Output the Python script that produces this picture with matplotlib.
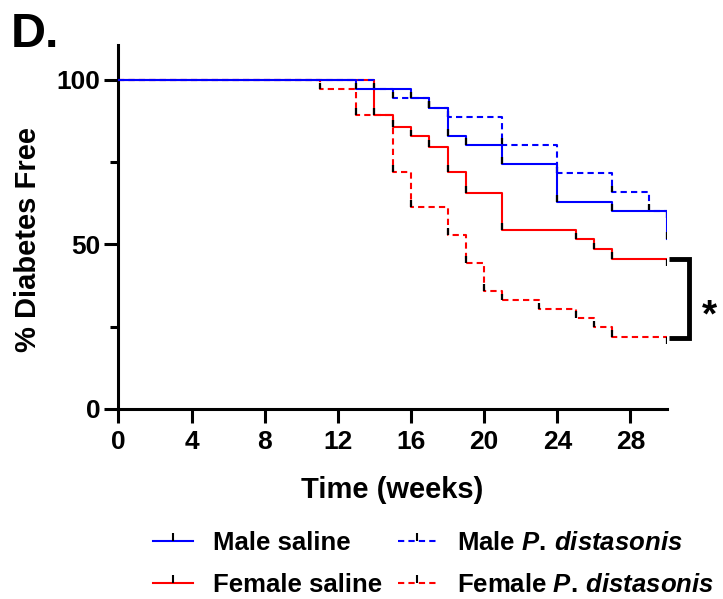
import matplotlib
matplotlib.use("Agg")
import matplotlib.pyplot as plt
from matplotlib.lines import Line2D
from matplotlib.ticker import FixedLocator

plt.rcParams['font.family'] = ['Liberation Sans', 'DejaVu Sans']
plt.rcParams['font.weight'] = 'bold'
plt.rcParams['mathtext.fontset'] = 'custom'
plt.rcParams['mathtext.it'] = 'Liberation Sans:italic:bold'
plt.rcParams['mathtext.rm'] = 'Liberation Sans:bold'
plt.rcParams['mathtext.bf'] = 'Liberation Sans:bold'

# ---- data (Kaplan-Meier steps: week of event, % diabetes free after event) ----
weeks_male_saline = [0, 13, 16, 17, 18, 19, 21, 24, 27, 30]
pct_male_saline = [100, 97.2, 94.4, 91.6, 83.0, 80.2, 74.5, 63.0, 60.2, 51.7]

weeks_male_pd = [0, 14, 15, 17, 18, 21, 24, 27, 29, 30]
pct_male_pd = [100, 97.2, 94.4, 91.6, 88.6, 80.2, 71.6, 65.9, 60.2, 60.2]

weeks_female_saline = [0, 14, 15, 16, 17, 18, 19, 21, 25, 26, 27, 30]
pct_female_saline = [100, 89.4, 85.8, 82.8, 79.7, 72.1, 65.7, 54.4, 51.6, 48.5, 45.7, 45.7]

weeks_female_pd = [0, 11, 13, 15, 16, 18, 19, 20, 21, 23, 25, 26, 27, 30]
pct_female_pd = [100, 97.2, 89.4, 72.1, 61.4, 53.0, 44.4, 36.0, 33.0, 30.3, 27.7, 24.8, 22.0, 22.0]

series_labels = ["Male saline", "Female saline",
                 r"Male $\mathit{P.\,distasonis}$",
                 r"Female $\mathit{P.\,distasonis}$"]
x_ticks = [0, 4, 8, 12, 16, 20, 24, 28]
y_ticks = [0, 50, 100]
y_minor = [25, 75]

BLUE = "#0000FF"
RED = "#FF0000"
DASH = (0, (3, 2))

fig = plt.figure(figsize=(7.23, 5.99), dpi=100)
ax = fig.add_axes([0.1639, 0.3172, 0.7587, 0.6077])

def draw(t, s, color, ls, z):
    ax.step(t, s, where='post', color=color, lw=1.5, ls=ls, zorder=z)
    # censor / event tick marks
    for i in range(1, len(t)):
        if s[i] < s[i - 1]:
            ax.vlines(t[i], s[i], s[i] + 2.0, color='k', lw=1.6, zorder=z + 0.5)
        else:
            ax.vlines(t[i], s[i] - 2.2, s[i], color='k', lw=1.6, zorder=z + 0.5)

draw(weeks_female_pd, pct_female_pd, RED, DASH, 2)
draw(weeks_female_saline, pct_female_saline, RED, '-', 3)
draw(weeks_male_pd, pct_male_pd, BLUE, DASH, 4)
draw(weeks_male_saline, pct_male_saline, BLUE, '-', 5)

ax.set_xlim(0, 30)
ax.set_ylim(0, 110.6)
ax.set_xticks(x_ticks)
ax.set_yticks(y_ticks)
ax.yaxis.set_minor_locator(FixedLocator(y_minor))
for side in ['top', 'right']:
    ax.spines[side].set_visible(False)
for side in ['left', 'bottom']:
    ax.spines[side].set_linewidth(2.2)
    ax.spines[side].set_capstyle('projecting')
ax.tick_params(axis='both', which='major', length=10, width=2.2, labelsize=19, pad=3)
ax.tick_params(axis='x', which='major', pad=5)
ax.tick_params(axis='y', which='minor', length=6, width=2.2)
for lab in ax.get_xticklabels() + ax.get_yticklabels():
    lab.set_fontweight('bold')

fig.text(392 / 723, 1 - 490 / 599, "Time (weeks)", fontsize=21, fontweight='bold',
         ha='center', va='center')
fig.text(28 / 723, 1 - 240 / 599, "% Diabetes Free", fontsize=21, fontweight='bold',
         ha='center', va='center', rotation=90)
fig.text(11 / 723, 1 - 12 / 599, "D.", fontsize=35, fontweight='bold', ha='left', va='top')

# significance bracket
ax.plot([30.1, 31.2, 31.2, 30.1], [45.5, 45.5, 21.5, 21.5], color='k', lw=3.5,
        clip_on=False, solid_joinstyle='miter', solid_capstyle='butt')
ax.text(32.3, 28, "*", fontsize=28, fontweight='bold', ha='center', va='center', clip_on=False)

handles = [
    Line2D([], [], color=BLUE, lw=1.5, ls='-', marker=2, markersize=6, mec='k', mew=1.5),
    Line2D([], [], color=RED, lw=1.5, ls='-', marker=2, markersize=6, mec='k', mew=1.5),
    Line2D([], [], color=BLUE, lw=1.5, ls=DASH, marker=2, markersize=6, mec='k', mew=1.5),
    Line2D([], [], color=RED, lw=1.5, ls=DASH, marker=2, markersize=6, mec='k', mew=1.5),
]
fig.legend(handles, series_labels, ncol=2, loc='center', bbox_to_anchor=(0.600, 0.0585),
           frameon=False, prop={'size': 18.5, 'weight': 'bold'}, handlelength=1.55,
           handletextpad=0.78, columnspacing=0.6, labelspacing=0.72, numpoints=1,
           borderaxespad=0, borderpad=0)

fig.savefig("out.png", dpi=100)
